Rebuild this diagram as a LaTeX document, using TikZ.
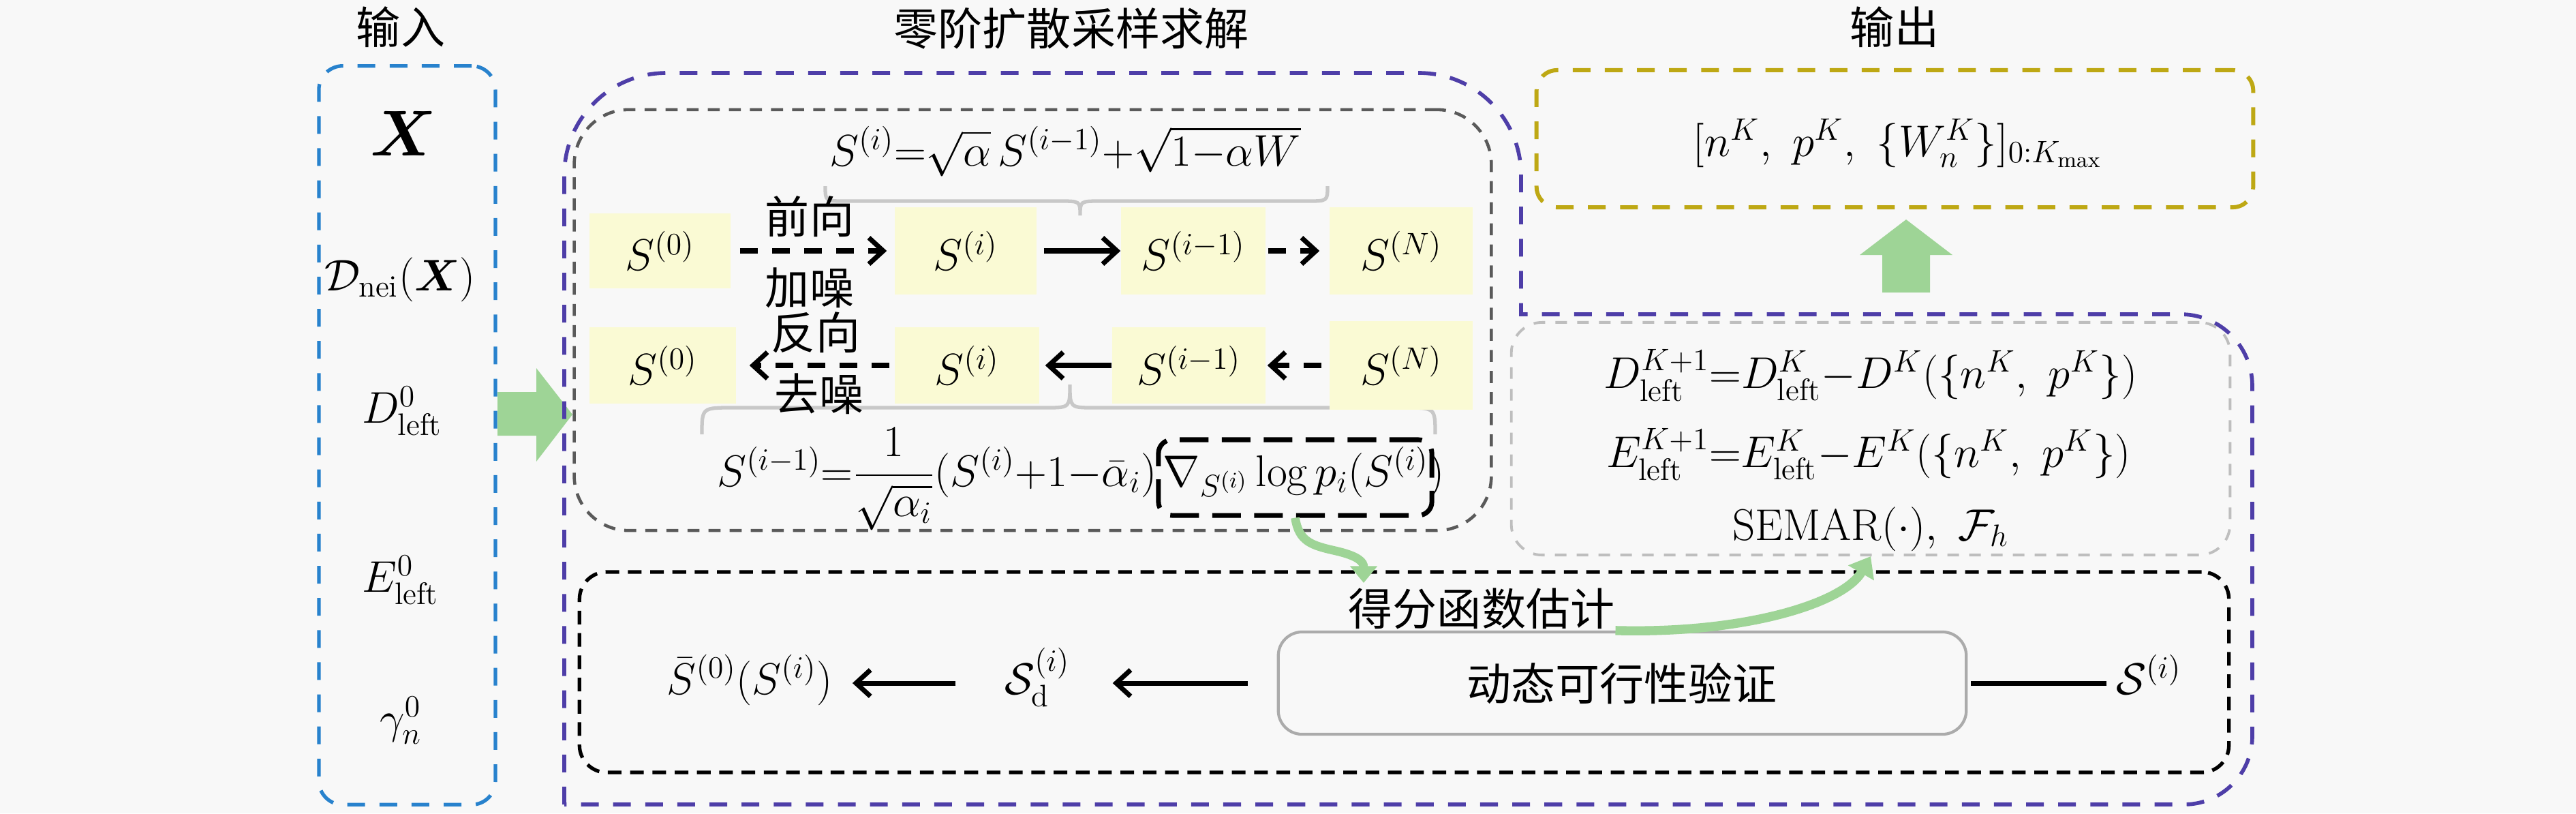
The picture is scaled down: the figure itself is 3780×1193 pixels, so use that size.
\RequirePackage{fix-cm}
\documentclass[tikz,border=0pt]{standalone}
\usepackage{amsmath}
\usepackage{fontspec}
\newfontfamily\cjk{Noto Sans CJK SC}
\usetikzlibrary{arrows.meta,calc}
\definecolor{bg}{RGB}{248,248,248}
\definecolor{boxy}{RGB}{250,250,212}
\definecolor{grn}{RGB}{158,212,150}
\definecolor{pur}{RGB}{78,62,168}
\definecolor{blu}{RGB}{40,130,205}
\definecolor{oli}{RGB}{190,168,20}
\definecolor{dgr}{RGB}{90,90,90}
\definecolor{lgr}{RGB}{190,190,190}
\definecolor{brc}{RGB}{200,200,200}
\newcommand{\fsz}{\fontsize{18.5pt}{22pt}\selectfont}
\begin{document}
\begin{tikzpicture}[x=0.01cm,y=-0.01cm,
  every node/.style={font=\fsz, inner sep=0pt},
  cn/.style={font=\fsz\cjk},
  sbox/.style={fill=boxy, minimum height=1.12cm},
  arr/.style={line width=2pt, -{Straight Barb[length=6pt,width=11pt]}},
  dsh/.style={dash pattern=on 7.4pt off 6pt},
  container/.style={draw, rounded corners=#1},
  bracepath/.style={draw=brc, line width=1.5pt},
  gshape/.style={fill=grn}
]
\fill[bg] (0,0) rectangle (3780,1193);
\useasboundingbox (0,0) rectangle (3780,1193);

% titles
\node[cn] (tin) at (588,40) {输入};
\node[cn] (tmid) at (1572,42) {零阶扩散采样求解};
\node[cn] (tout) at (2780,40) {输出};

% input box
\node[container=0.35cm, draw=blu, line width=1.5pt, dsh, minimum width=2.59cm, minimum height=10.83cm] (inbox) at (597.5,638.5) {};
\node[anchor=base, font=\fontsize{27pt}{30pt}\selectfont] (x) at (592,228) {$\boldsymbol{X}$};
\node[anchor=base] (dnei) at (587,426) {$\mathcal{D}_{\mathrm{nei}}(\boldsymbol{X})$};
\node[anchor=base] (d0) at (590,620) {$D_{\mathrm{left}}^{0}$};
\node[anchor=base] (e0) at (588,868) {$E_{\mathrm{left}}^{0}$};
\node[anchor=base] (g0) at (588,1075) {$\gamma_n^{0}$};

% big green arrow (input -> solver)
\fill[gshape] (730,575) -- (787,575) -- (787,540) -- (840,608) -- (787,677) -- (787,639) -- (730,639) -- cycle;

% outer purple region
\draw[draw=pur, line width=1.6pt, dsh] (828,1180) -- (828,257) .. controls (828,174) and (895,107) .. (978,107) -- (2082,107) .. controls (2165,107) and (2232,174) .. (2232,257) -- (2232,461) -- (3200,461) .. controls (3258,461) and (3305,508) .. (3305,566) -- (3305,1080) .. controls (3305,1135) and (3260,1180) .. (3205,1180) -- cycle;

% diffusion container
\node[container=0.8cm, draw=dgr, line width=1.3pt, dash pattern=on 5pt off 3.8pt, minimum width=13.45cm, minimum height=6.17cm] (diff) at (1515.5,469.5) {};

% braces
\draw[bracepath] (1211,273) .. controls (1211,295) .. (1240,295) -- (1555,295) .. controls (1585,295) .. (1585,316) .. controls (1585,295) .. (1615,295) -- (1918,295) .. controls (1948,295) .. (1948,273);
\draw[bracepath] (1030,637) .. controls (1030,598) .. (1075,598) -- (1535,598) .. controls (1570,598) .. (1570,564) .. controls (1570,598) .. (1605,598) -- (2061,598) .. controls (2106,598) .. (2106,637);

% formula 1
\node[anchor=base] (f1) at (1563,243) {$S^{(i)}{=}\sqrt{\alpha}\,S^{(i-1)}{+}\sqrt{1{-}\alpha W}$};

% row 1 boxes
\node[sbox, minimum width=2.07cm, minimum height=1.10cm] (a0) at (968.5,368) {$S^{(0)}$};
\node[sbox, minimum width=2.08cm, minimum height=1.27cm] (a1) at (1417,368) {$S^{(i)}$};
\node[sbox, minimum width=2.12cm, minimum height=1.27cm] (a2) at (1751,368) {$S^{(i-1)}$};
\node[sbox, minimum width=2.10cm, minimum height=1.27cm] (a3) at (2056,368) {$S^{(N)}$};
% row 2 boxes
\node[sbox, minimum width=2.15cm] (b0) at (972.5,536) {$S^{(0)}$};
\node[sbox, minimum width=2.12cm] (b1) at (1419,536) {$S^{(i)}$};
\node[sbox, minimum width=2.25cm] (b2) at (1744.5,536) {$S^{(i-1)}$};
\node[sbox, minimum width=2.10cm, minimum height=1.29cm] (b3) at (2056,536) {$S^{(N)}$};

% row arrows
\draw[arr, dsh, shorten <=0.13cm, shorten >=0.11cm] (a0) -- (a1);
\draw[arr, shorten <=0.1cm, shorten >=0.0cm] (a1) -- (a2);
\draw[arr, dsh, shorten <=0.03cm, shorten >=0.14cm] (a2) -- (a3);
\draw[arr, dsh, shorten <=0.07cm, shorten >=0.19cm] (b1) -- (b0);
\draw[arr, shorten <=0.0cm, shorten >=0.08cm] (b2) -- (b1);
\draw[arr, dsh, shorten <=0.11cm, shorten >=0.02cm] (b3) -- (b2);

\node[cn] (lq) at (1188,318) {前向};
\node[cn] (lj) at (1188,422) {加噪};
\node[cn] (lf) at (1197,488) {反向};
\node[cn] (lc) at (1202,578) {去噪};

% formula 2
\node[container=0.2cm, draw=black, line width=2pt, dash pattern=on 12pt off 5.5pt, minimum width=4.01cm, minimum height=1.11cm] (nab) at (1900.5,700.5) {};
\node[anchor=base west] (f2b) at (1706,713) {$\nabla_{S^{(i)}}\log p_i(S^{(i)})$};
\node[anchor=base east] (f2a) at (1698,713) {$S^{(i-1)}{=}\dfrac{1}{\sqrt{\alpha_i}}(S^{(i)}{+}1{-}\bar{\alpha}_i)$};

% right semar box
\node[container=0.45cm, draw=lgr, line width=1.1pt, dash pattern=on 4.8pt off 4.3pt, minimum width=10.54cm, minimum height=3.41cm] (semar) at (2745,643.5) {};
\node[anchor=base] (dl) at (2745,569) {$D_{\mathrm{left}}^{K+1}{=}D_{\mathrm{left}}^{K}{-}D^{K}(\{n^K,\ p^K\})$};
\node[anchor=base] (el) at (2742,685) {$E_{\mathrm{left}}^{K+1}{=}E_{\mathrm{left}}^{K}{-}E^{K}(\{n^K,\ p^K\})$};
\node[anchor=base] (sm) at (2745,792) {$\mathrm{SEMAR}(\cdot),\ \mathcal{F}_h$};

% output box
\node[container=0.3cm, draw=oli, line width=1.7pt, dsh, minimum width=10.51cm, minimum height=2.01cm] (outbox) at (2780.5,203.5) {};
\node[anchor=base] (outtxt) at (2785,229) {$[n^K,\ p^K,\ \{W_n^K\}]_{0:K_{\max}}$};
% green up arrow
\fill[gshape] (2762,429) -- (2762,374) -- (2729,374) -- (2797,322) -- (2865,374) -- (2832,374) -- (2832,429) -- cycle;

% score box
\node[container=0.4cm, draw=black, line width=1.5pt, dash pattern=on 5.7pt off 3.6pt, minimum width=24.19cm, minimum height=2.94cm] (score) at (2060.5,986) {};
\node[cn] (scoretxt) at (2174,893) {得分函数估计};
\node[container=0.35cm, draw=lgr!90!black, line width=1.2pt, minimum width=10.09cm, minimum height=1.5cm] (dyn) at (2380.5,1002) {};
\node[cn] (dyntxt) at (2380,1003) {动态可行性验证};
\node[anchor=base] (sbar) at (1100,1018) {$\bar{S}^{(0)}(S^{(i)})$};
\node[anchor=base] (sd) at (1522,1018) {$\mathcal{S}_{\mathrm{d}}^{(i)}$};
\node[anchor=base] (si) at (3153,1018) {$\mathcal{S}^{(i)}$};
\draw[arr, shorten <=0.43cm, shorten >=0.62cm] (dyn.west) -- (sd.east |- dyn.west);
\draw[arr, shorten <=0.71cm, shorten >=0.29cm] (sd.west |- dyn.west) -- (sbar.east |- dyn.west);
\draw[line width=2pt, shorten <=0.13cm, shorten >=0.05cm] (si.west |- dyn.east) -- (dyn.east);

% green curved arrows
\coordinate (wv) at (2001,855);
\draw[grn, line width=3.6pt, -{Triangle[length=7pt,width=11pt]}] (nab.south) .. controls (1906,795) and (1925,800) .. (1960,808) .. controls (1995,816) and (2001,825) .. (wv);
\draw[grn, line width=3.8pt, -{Triangle[length=8pt,width=12pt]}] ([xshift=-0.1cm]dyn.north) .. controls (2560,930) and (2705,885) .. (semar.south);
\end{tikzpicture}
\end{document}
